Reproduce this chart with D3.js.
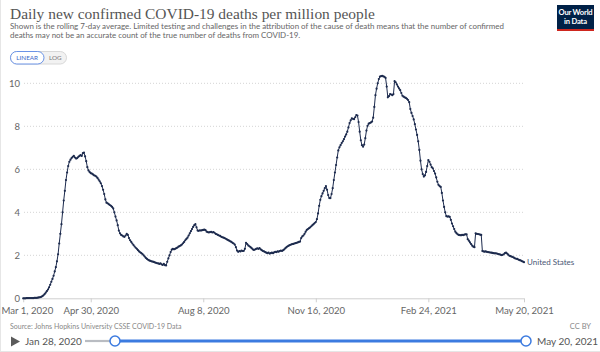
<!DOCTYPE html>
<html><head><meta charset="utf-8">
<script src="https://cdn.jsdelivr.net/npm/d3@7"></script>
<style>body{margin:0;background:#fff;} svg{display:block;font-family:Lato,"Noto Sans",sans-serif;}</style>
</head><body><svg id="c" width="600" height="352"></svg>
<script>
// ---- data ----
const startDate = "2020-03-01";
const seriesName = "United States";
// daily 7-day-average deaths per million, Mar 1 2020 .. Dec 31 2020
const values2020 = [
0.00,0.00,0.00,0.01,0.01,0.01,0.01,0.01,0.01,0.01,0.02,0.02,0.02,0.03,0.04,0.05,0.07,0.10,0.14,0.19,0.26,0.33,0.41,0.51,0.63,0.77,0.90,1.05,1.25,1.45,1.72,
2.05,2.55,3.00,3.45,4.00,4.55,5.00,5.50,5.85,6.15,6.35,6.45,6.52,6.58,6.62,6.55,6.50,6.52,6.58,6.62,6.66,6.62,6.75,6.78,6.60,6.38,6.10,5.95,5.88,5.82,
5.80,5.76,5.72,5.70,5.66,5.60,5.52,5.44,5.35,5.22,5.05,4.85,4.60,4.45,4.42,4.38,4.34,4.30,4.25,4.18,4.00,3.80,3.62,3.40,3.15,3.02,2.95,2.92,2.88,2.86,2.92,
3.00,2.95,2.80,2.70,2.62,2.55,2.48,2.41,2.35,2.30,2.24,2.18,2.14,2.10,2.06,2.00,1.94,1.88,1.83,1.79,1.76,1.74,1.72,1.71,1.69,1.67,1.65,1.63,1.62,1.60,
1.62,1.58,1.55,1.60,1.54,1.53,1.70,1.86,2.00,2.15,2.26,2.30,2.28,2.30,2.33,2.36,2.40,2.43,2.46,2.50,2.56,2.62,2.70,2.76,2.82,2.92,3.02,3.12,3.22,3.32,3.40,
3.45,3.30,3.15,3.14,3.16,3.15,3.17,3.18,3.19,3.17,3.10,3.08,3.06,3.08,3.09,3.06,3.08,3.05,3.00,2.98,2.95,2.92,2.90,2.86,2.84,2.82,2.80,2.77,2.74,2.71,2.68,
2.65,2.62,2.58,2.55,2.50,2.38,2.22,2.16,2.20,2.18,2.22,2.20,2.21,2.30,2.58,2.52,2.46,2.42,2.38,2.33,2.28,2.25,2.27,2.30,2.32,2.30,2.33,2.28,2.24,2.20,
2.18,2.15,2.12,2.10,2.12,2.08,2.10,2.12,2.10,2.14,2.16,2.15,2.18,2.17,2.20,2.22,2.20,2.24,2.28,2.33,2.38,2.42,2.45,2.48,2.50,2.52,2.53,2.55,2.57,2.58,2.60,
2.62,2.64,2.80,2.88,2.92,3.00,3.10,3.18,3.22,3.26,3.30,3.35,3.40,3.45,3.50,3.55,3.68,3.95,4.30,4.58,4.75,4.88,5.00,5.12,5.22,5.05,4.80,4.66,4.66,4.85,
5.12,5.50,5.85,6.20,6.55,6.88,7.02,7.12,7.22,7.30,7.40,7.52,7.62,7.75,7.95,8.15,8.28,8.37,8.35,8.33,8.42,8.52,8.50,8.20,7.75,7.35,7.12,7.05,7.15,7.45,7.80
];
// Jan 1 2021 .. May 20 2021
const values2021 = [
8.02,8.12,8.15,8.18,8.22,8.40,8.90,9.45,9.75,10.00,10.20,10.31,10.33,10.35,10.32,10.30,10.25,9.85,9.35,9.40,9.50,9.48,9.45,9.50,10.10,10.05,9.95,9.85,9.76,9.68,9.55,
9.42,9.38,9.35,9.32,9.28,9.22,9.12,8.80,8.62,8.48,8.32,8.10,7.85,7.60,7.30,6.90,6.40,6.00,5.78,5.66,5.72,5.88,6.15,6.43,6.35,6.22,6.10,6.05,
5.92,5.80,5.62,5.42,5.28,5.22,5.18,4.90,4.55,4.25,4.00,3.82,3.80,3.81,3.79,3.65,3.48,3.35,3.22,3.10,3.03,2.98,2.95,2.94,2.93,2.95,2.94,2.96,2.98,2.97,2.75,
2.68,2.60,2.52,2.45,2.40,2.38,3.02,3.00,2.99,2.98,2.96,2.95,2.20,2.18,2.17,2.18,2.16,2.15,2.14,2.13,2.12,2.11,2.10,2.09,2.09,2.08,2.06,2.05,2.03,2.01,
2.02,2.05,2.10,2.12,2.08,2.03,1.98,1.96,1.94,1.92,1.89,1.86,1.84,1.83,1.80,1.78,1.76,1.73,1.71,1.68
];
const yTicks = [0, 2, 4, 6, 8, 10];
const xTickDates = ["2020-03-01","2020-04-30","2020-08-08","2020-11-16","2021-02-24","2021-05-20"];
const xTickLabels = ["Mar 1, 2020","Apr 30, 2020","Aug 8, 2020","Nov 16, 2020","Feb 24, 2021","May 20, 2021"];
const titleText = "Daily new confirmed COVID-19 deaths per million people";
const subtitleLines = [
  "Shown is the rolling 7-day average. Limited testing and challenges in the attribution of the cause of death means that the number of confirmed",
  "deaths may not be an accurate count of the true number of deaths from COVID-19."
];
const sourceText = "Source: Johns Hopkins University CSSE COVID-19 Data";
const timelineStart = "Jan 28, 2020";
const timelineEnd = "May 20, 2021";

// ---- build ----
const parse = d3.utcParse("%Y-%m-%d");
const t0 = parse(startDate);
const allValues = values2020.concat(values2021);
const data = allValues.map((v, i) => ({ date: d3.utcDay.offset(t0, i), value: v }));

const svg = d3.select("#c");
const lineColor = "#1d2b4e";

const x = d3.scaleUtc().domain([t0, parse(xTickDates[xTickDates.length - 1])]).range([23.2, 524]);
const y = d3.scaleLinear().domain([0, 10]).range([298.3, 83.3]);

// frame lines
svg.append("line").attr("x1", 0.5).attr("x2", 0.5).attr("y1", 0).attr("y2", 352).attr("stroke", "#e6e6e6");
svg.append("line").attr("x1", 0).attr("x2", 600).attr("y1", 351.5).attr("y2", 351.5).attr("stroke", "#e6e6e6");

// helper: fit text to width
function fit(sel, width, maxSize) {
  let size = maxSize;
  sel.attr("font-size", size);
  const w = sel.node().getComputedTextLength();
  if (w > 0) { size = size * width / w; sel.attr("font-size", size); }
}

// title
const title = svg.append("text").attr("x", 10).attr("y", 18.5)
  .attr("font-family", "'Liberation Serif','DejaVu Serif',serif").attr("fill", "#555")
  .text(titleText);
fit(title, 365, 18);

// subtitle
subtitleLines.forEach((s, i) => {
  const t = svg.append("text").attr("x", 10).attr("y", 29 + i * 8.7).attr("fill", "#666").text(s);
  if (i === 0) fit(t, 495, 8); else t.attr("font-size", +svg.select("text:nth-of-type(2)").attr("font-size"));
});
const subSize = svg.selectAll("text").nodes()[1].getAttribute("font-size");
svg.selectAll("text").filter((d, i) => i === 2).attr("font-size", subSize);

// logo
svg.append("rect").attr("x", 557).attr("y", 5).attr("width", 37).attr("height", 26).attr("fill", "#002147");
svg.append("rect").attr("x", 557).attr("y", 29).attr("width", 37).attr("height", 2).attr("fill", "#ce261e");
svg.append("text").attr("x", 575.5).attr("y", 15).attr("text-anchor", "middle").attr("fill", "#fff")
  .attr("font-size", 7.6).attr("font-weight", 700).attr("letter-spacing", -0.2).text("Our World");
svg.append("text").attr("x", 575.5).attr("y", 24).attr("text-anchor", "middle").attr("fill", "#fff")
  .attr("font-size", 7.6).attr("font-weight", 700).attr("letter-spacing", -0.2).text("in Data");

// linear / log toggle
svg.append("rect").attr("x", 10.5).attr("y", 51.5).attr("width", 56).attr("height", 12.5).attr("rx", 6.25)
  .attr("fill", "#f2f2f2").attr("stroke", "#d8d8d8");
svg.append("rect").attr("x", 10.5).attr("y", 51.5).attr("width", 33.5).attr("height", 12.5).attr("rx", 6.25)
  .attr("fill", "#fff").attr("stroke", "#6b93e6");
svg.append("text").attr("x", 27.2).attr("y", 60.2).attr("text-anchor", "middle").attr("font-size", 6.3)
  .attr("fill", "#3b66c8").text("LINEAR");
svg.append("text").attr("x", 55.3).attr("y", 60.2).attr("text-anchor", "middle").attr("font-size", 6.3)
  .attr("fill", "#777").text("LOG");

// gridlines
svg.append("g").selectAll("line").data(yTicks.filter(d => d > 0)).join("line")
  .attr("x1", 24).attr("x2", 524).attr("y1", d => y(d)).attr("y2", d => y(d))
  .attr("stroke", "#d4d4d4").attr("stroke-dasharray", "1,2").attr("stroke-width", 1);

// y axis labels
const yAxis = svg.append("g").attr("transform", "translate(24,0)")
  .call(d3.axisLeft(y).tickValues(yTicks).tickSize(0).tickPadding(4).tickFormat(d3.format("d")));
yAxis.select(".domain").remove();
yAxis.selectAll("text").attr("font-family", "Lato").attr("font-size", 9.5).attr("fill", "#666");

// x axis
const xAxis = svg.append("g").attr("transform", `translate(0,${y(0)})`)
  .call(d3.axisBottom(x).tickValues(xTickDates.map(parse)).tickSize(4).tickPadding(5)
    .tickFormat((d, i) => xTickLabels[i]));
xAxis.select(".domain").attr("d", `M22,0.5H524`).attr("stroke", "#cfcfcf");
xAxis.selectAll(".tick line").attr("stroke", "#cfcfcf");
xAxis.selectAll("text").attr("font-family", "Lato").attr("font-size", 9.6).attr("fill", "#666");
xAxis.selectAll(".tick text").each(function () {
  const bb = this.getBBox();
  const g = this.parentNode.getAttribute("transform");
  const tx = +g.match(/translate\(([-\d.]+)/)[1];
  const left = tx + bb.x;
  if (left < 1.5) d3.select(this).attr("dx", 1.5 - left);
});

// line + markers
const line = d3.line().x(d => x(d.date)).y(d => y(d.value));
svg.append("path").datum(data).attr("d", line).attr("fill", "none")
  .attr("stroke", lineColor).attr("stroke-width", 1);
svg.append("g").selectAll("circle").data(data).join("circle")
  .attr("cx", d => x(d.date)).attr("cy", d => y(d.value)).attr("r", 1.1).attr("fill", lineColor);

// series label
const last = data[data.length - 1];
svg.append("text").attr("x", x(last.date) + 3).attr("y", y(last.value) + 2.8)
  .attr("font-size", 8).attr("fill", "#4b5875").text(seriesName);

// footer
const src = svg.append("text").attr("x", 10).attr("y", 329).attr("fill", "#888").text(sourceText);
fit(src, 172, 7.5);
svg.append("text").attr("x", 591).attr("y", 329).attr("text-anchor", "end").attr("font-size", 7.5)
  .attr("fill", "#888").text("CC BY");

// timeline
svg.append("path").attr("d", "M11,336.5L20,341.5L11,346.5Z").attr("fill", "#5b5b5b");
svg.append("text").attr("x", 25).attr("y", 344.8).attr("font-size", 10).attr("fill", "#555").text(timelineStart);
svg.append("line").attr("x1", 85).attr("x2", 115).attr("y1", 341).attr("y2", 341)
  .attr("stroke", "#b9bcc2").attr("stroke-width", 2.2);
svg.append("line").attr("x1", 115).attr("x2", 526).attr("y1", 341).attr("y2", 341)
  .attr("stroke", "#3c7be0").attr("stroke-width", 3.2);
[115, 526].forEach(cx => svg.append("circle").attr("cx", cx).attr("cy", 341).attr("r", 5)
  .attr("fill", "#fff").attr("stroke", "#3c7be0").attr("stroke-width", 1.5));
svg.append("text").attr("x", 537).attr("y", 344.8).attr("font-size", 10).attr("fill", "#555").text(timelineEnd);
</script>
</body></html>
